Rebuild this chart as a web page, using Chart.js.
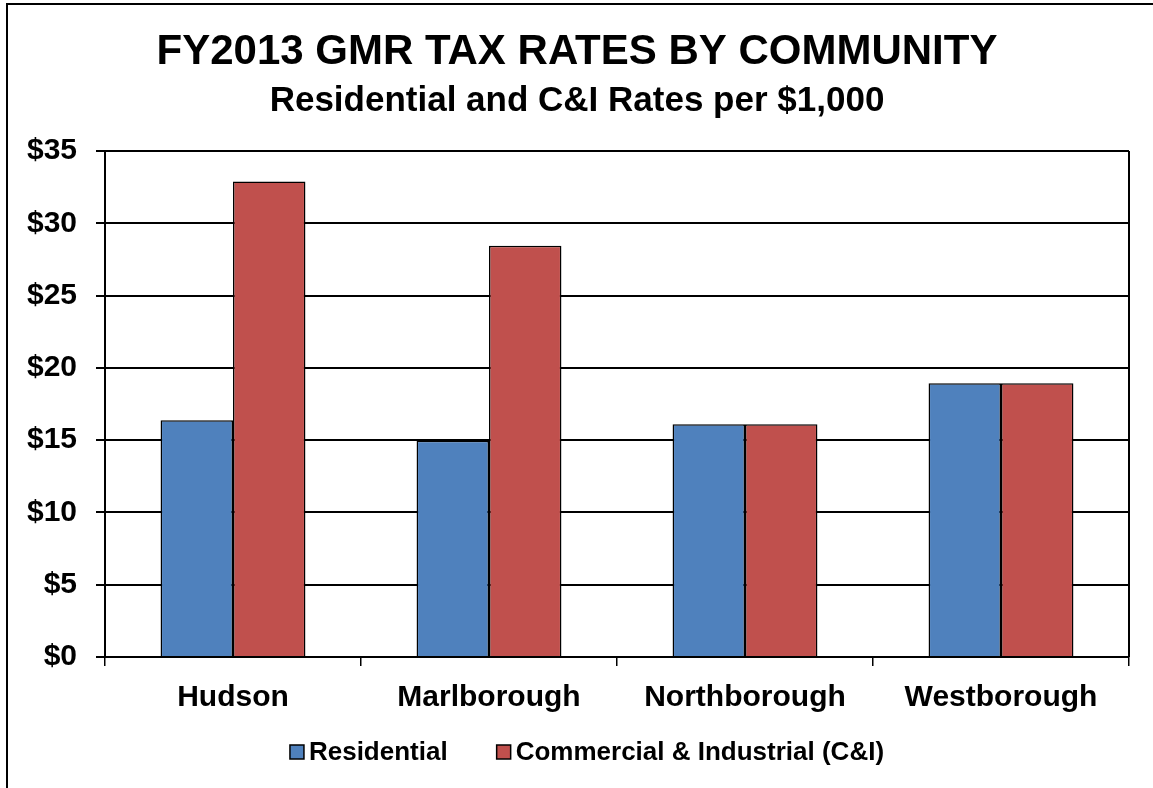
<!DOCTYPE html>
<html>
<head>
<meta charset="utf-8">
<script src="https://cdn.jsdelivr.net/npm/chart.js@4.4.0/dist/chart.umd.min.js"></script>
<style>
html,body{margin:0;padding:0;background:#fff;overflow:hidden}
#frame{position:absolute;left:6px;top:3px;width:1170px;height:820px;border:2px solid #000}
#wrap{position:absolute;left:0;top:0;width:1153px;height:788px}
</style>
</head>
<body>
<div id="frame"></div>
<div id="wrap"><canvas id="chart"></canvas></div>
<script>
const communities=['Hudson','Marlborough','Northborough','Westborough'];
const residential=[16.38,14.96,16.1,18.94];
const commercial=[32.89,28.45,16.1,18.94];
const seriesNames=['Residential','Commercial & Industrial (C&I)'];
const yMin=0, yMax=35, yStep=5;

const FONT='"Liberation Sans", Arial, sans-serif';
const PAD_LEFT=25;

// right edge of the plot frame + legend drawn like the original
const framePlugin={
  id:'framePlugin',
  afterDraw(chart){
    const {ctx,chartArea:a}=chart;
    ctx.save();
    ctx.strokeStyle='#000';
    ctx.lineWidth=2;
    ctx.beginPath();
    ctx.moveTo(a.right,a.top);
    ctx.lineTo(a.right,a.bottom);
    ctx.stroke();

    // legend
    ctx.font='bold 26px '+FONT;
    ctx.textBaseline='middle';
    const box=14, gap=5, spacing=49, cy=752;
    const items=chart.data.datasets.map(d=>({label:d.label,color:d.backgroundColor,w:ctx.measureText(d.label).width}));
    const total=items.reduce((s,it)=>s+box+gap+it.w,0)+spacing*(items.length-1);
    let x=587-total/2;
    items.forEach(it=>{
      ctx.fillStyle=it.color;
      ctx.fillRect(x,cy-box/2,box,box);
      ctx.lineWidth=1.5;
      ctx.strokeStyle='#000';
      ctx.strokeRect(x,cy-box/2,box,box);
      ctx.fillStyle='#000';
      ctx.fillText(it.label,x+box+gap,cy+1);
      x+=box+gap+it.w+spacing;
    });
    ctx.restore();
  }
};

new Chart(document.getElementById('chart'),{
  type:'bar',
  data:{
    labels:communities,
    datasets:[
      {label:seriesNames[0],data:residential,backgroundColor:'#4F81BD',borderColor:'#000',borderWidth:1.5},
      {label:seriesNames[1],data:commercial,backgroundColor:'#C0504D',borderColor:'#000',borderWidth:1.5}
    ]
  },
  options:{
    responsive:true,
    maintainAspectRatio:false,
    animation:false,
    categoryPercentage:0.566,
    barPercentage:1.0,
    layout:{padding:{left:PAD_LEFT,right:24,top:0,bottom:0}},
    plugins:{
      legend:{display:false},
      tooltip:{enabled:false},
      title:{
        display:true,
        text:'FY2013 GMR TAX RATES BY COMMUNITY',
        color:'#000',
        font:{family:FONT,size:42,weight:'bold'},
        padding:{top:27,bottom:0}
      },
      subtitle:{
        display:true,
        text:'Residential and C&I Rates per $1,000',
        color:'#000',
        font:{family:FONT,size:35,weight:'bold'},
        padding:{top:3,bottom:28.6}
      }
    },
    scales:{
      x:{
        grid:{offset:true,drawOnChartArea:false,color:'#000',lineWidth:1.5,tickLength:9},
        border:{color:'#000',width:2},
        ticks:{color:'#000',font:{family:FONT,size:30,weight:'bold'},padding:14},
        afterFit(s){s.height=131;}
      },
      y:{
        min:yMin,max:yMax,
        ticks:{stepSize:yStep,color:'#000',font:{family:FONT,size:30,weight:'bold'},padding:19,
          callback:v=>'$'+v},
        grid:{color:'#000',lineWidth:2,tickLength:9},
        border:{color:'#000',width:2},
        afterFit(s){s.width=105-PAD_LEFT;}
      }
    }
  },
  plugins:[framePlugin]
});
</script>
</body>
</html>
